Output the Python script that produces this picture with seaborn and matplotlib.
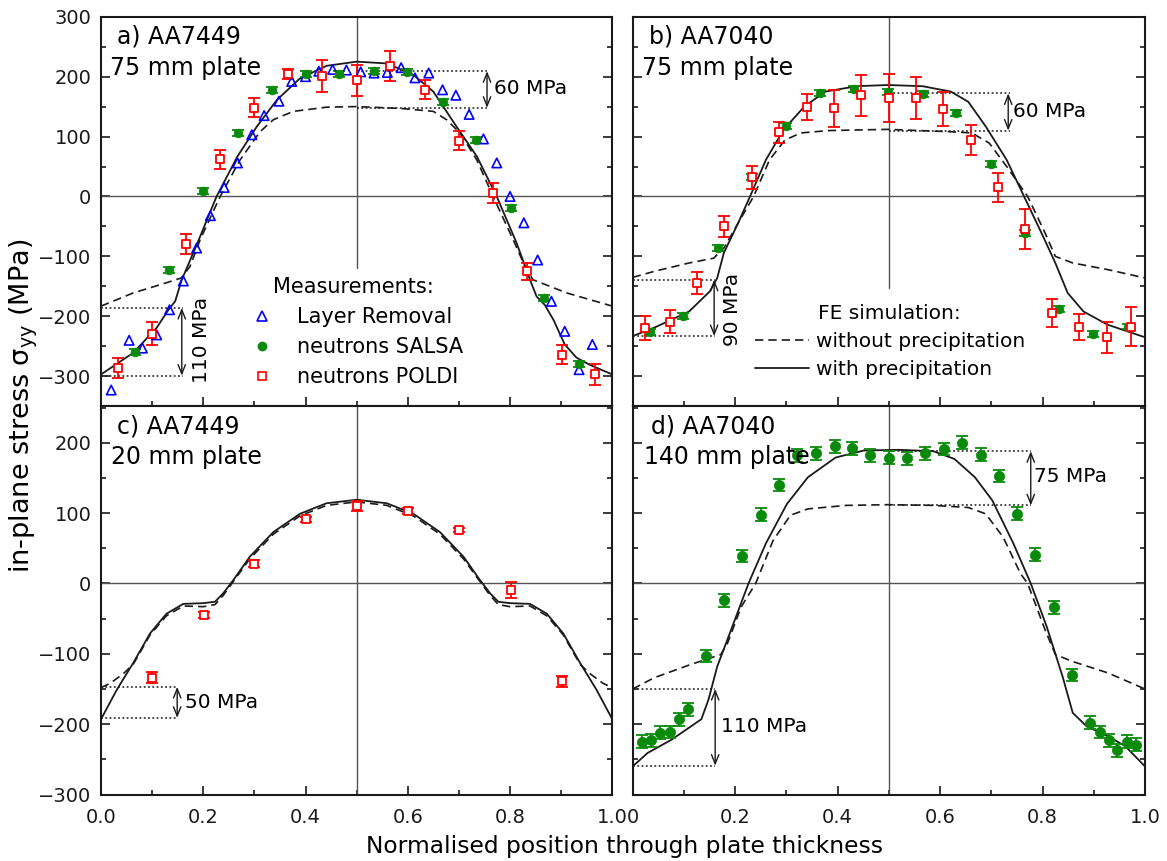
import matplotlib
matplotlib.use("Agg")
import matplotlib.pyplot as plt
import seaborn as sns
from matplotlib.ticker import MultipleLocator
from matplotlib.lines import Line2D

# ---------------- a) AA7449, 75 mm plate ----------------
a_lr_x = [0.020, 0.055, 0.081, 0.109, 0.134, 0.161, 0.187, 0.214, 0.241, 0.267, 0.295, 0.319,
          0.348, 0.373, 0.400, 0.426, 0.453, 0.480, 0.508, 0.534, 0.560, 0.587, 0.614, 0.641,
          0.668, 0.694, 0.720, 0.748, 0.774, 0.800, 0.827, 0.854, 0.881, 0.907, 0.935, 0.961]
a_lr_y = [-323, -240, -253, -231, -189, -141, -86, -32, 15, 56, 103, 135,
          159, 192, 200, 209, 212, 211, 208, 206, 207, 215, 198, 206,
          178, 169, 137, 96, 56, 0, -44, -106, -175, -225, -289, -247]

a_salsa_x = [0.066, 0.133, 0.200, 0.267, 0.334, 0.400, 0.466, 0.533, 0.599, 0.668, 0.733, 0.802, 0.867, 0.935]
a_salsa_y = [-259, -123, 9, 106, 177, 204, 204, 209, 207, 158, 94, -19, -169, -279]
a_salsa_err = [5, 5, 5, 5, 5, 5, 5, 5, 5, 5, 5, 5, 5, 5]

a_poldi_x = [0.034, 0.100, 0.166, 0.233, 0.299, 0.366, 0.433, 0.500, 0.566, 0.634, 0.700, 0.767, 0.834, 0.901, 0.967]
a_poldi_y = [-286, -229, -79, 62, 148, 204, 201, 194, 217, 178, 93, 6, -125, -264, -297]
a_poldi_err = [17, 19, 17, 16, 16, 8, 27, 26, 25, 16, 16, 17, 14, 16, 18]

a_with_x = [0.0, 0.063, 0.109, 0.132, 0.145, 0.158, 0.187, 0.226, 0.267, 0.305, 0.344, 0.389, 0.441, 0.5,
            0.559, 0.611, 0.650, 0.695, 0.735, 0.774, 0.813, 0.839, 0.852, 0.868, 0.885, 0.907, 0.930, 0.956, 1.0]
a_with_y = [-297, -261, -219, -189, -175, -139, -81, 0, 67, 117, 161, 197, 218, 225,
            222, 203, 175, 117, 67, 0, -78, -139, -167, -181, -206, -247, -269, -281, -297]
a_without_x = [0.0, 0.063, 0.128, 0.157, 0.174, 0.194, 0.233, 0.272, 0.311, 0.337, 0.376, 0.441, 0.5,
               0.585, 0.650, 0.676, 0.702, 0.735, 0.767, 0.806, 0.832, 0.845, 0.911, 1.0]
a_without_y = [-183, -161, -144, -136, -117, -72, 0, 61, 108, 128, 142, 149, 150,
               147, 142, 128, 106, 61, 0, -72, -122, -139, -161, -183]

# ---------------- b) AA7040, 75 mm plate ----------------
b_salsa_x = [0.034, 0.099, 0.167, 0.233, 0.299, 0.366, 0.432, 0.498, 0.566, 0.632, 0.699, 0.765, 0.833, 0.899, 0.966]
b_salsa_y = [-227, -199, -86, 32, 118, 172, 179, 175, 171, 139, 54, -61, -188, -229, -217]
b_salsa_err = [5, 5, 5, 5, 5, 5, 5, 5, 5, 5, 5, 5, 5, 5, 5]

b_poldi_x = [0.024, 0.073, 0.126, 0.178, 0.233, 0.286, 0.340, 0.393, 0.446, 0.500, 0.553, 0.606,
             0.660, 0.713, 0.765, 0.818, 0.872, 0.926, 0.973]
b_poldi_y = [-219, -209, -144, -50, 32, 107, 149, 147, 169, 164, 164, 146,
             94, 15, -54, -194, -218, -235, -217]
b_poldi_err = [20, 19, 18, 18, 19, 17, 22, 31, 34, 40, 35, 29, 25, 24, 33, 23, 22, 26, 32]

b_with_x = [0.0, 0.042, 0.110, 0.151, 0.165, 0.178, 0.206, 0.229, 0.260, 0.294, 0.335, 0.376, 0.437, 0.498,
            0.566, 0.621, 0.655, 0.689, 0.730, 0.764, 0.798, 0.825, 0.849, 0.880, 0.927, 1.0]
b_with_y = [-233, -219, -192, -158, -136, -94, -44, 0, 61, 111, 150, 175, 184, 186,
            184, 175, 158, 117, 61, 0, -61, -111, -161, -192, -214, -235]
b_without_x = [0.0, 0.042, 0.110, 0.158, 0.178, 0.206, 0.236, 0.267, 0.297, 0.328, 0.383, 0.498,
               0.621, 0.662, 0.696, 0.730, 0.771, 0.805, 0.825, 0.859, 0.927, 1.0]
b_without_y = [-135, -125, -111, -103, -86, -44, 0, 61, 94, 106, 110, 112,
               108, 106, 89, 50, 0, -61, -100, -111, -122, -136]

# ---------------- c) AA7449, 20 mm plate ----------------
c_poldi_x = [0.099, 0.201, 0.300, 0.401, 0.500, 0.601, 0.700, 0.801, 0.901]
c_poldi_y = [-134, -45, 28, 91, 110, 103, 76, -9, -139]
c_poldi_err = [8, 4, 5, 4, 7, 4, 3, 11, 8]

c_with_x = [0.0, 0.031, 0.063, 0.096, 0.128, 0.161, 0.200, 0.223, 0.239, 0.259, 0.291, 0.337, 0.389, 0.441, 0.5,
            0.559, 0.611, 0.663, 0.709, 0.741, 0.761, 0.777, 0.800, 0.839, 0.872, 0.904, 0.937, 0.969, 1.0]
c_with_y = [-193, -151, -113, -71, -43, -29, -28, -26, -14, 5, 38, 73, 99, 114, 119,
            114, 99, 73, 38, 5, -14, -26, -28, -29, -43, -71, -113, -151, -193]
c_without_x = [0.0, 0.018, 0.044, 0.063, 0.096, 0.128, 0.161, 0.200, 0.223, 0.239, 0.259, 0.291, 0.337, 0.389,
               0.441, 0.5, 0.559, 0.611, 0.663, 0.709, 0.741, 0.761, 0.777, 0.800, 0.839, 0.872, 0.904, 0.937,
               0.956, 0.982, 1.0]
c_without_y = [-148, -142, -128, -115, -73, -46, -32, -33, -30, -17, 3, 35, 70, 96,
               111, 116, 111, 96, 70, 35, 3, -17, -30, -33, -32, -46, -73, -115, -128, -142, -148]

# ---------------- d) AA7040, 140 mm plate ----------------
d_salsa_x = [0.018, 0.035, 0.054, 0.073, 0.091, 0.108, 0.144, 0.178, 0.214, 0.250, 0.286, 0.321,
             0.357, 0.394, 0.429, 0.464, 0.500, 0.536, 0.571, 0.607, 0.643, 0.679, 0.715, 0.750,
             0.786, 0.822, 0.858, 0.893, 0.912, 0.929, 0.946, 0.965, 0.982]
d_salsa_y = [-225, -223, -212, -211, -193, -179, -103, -24, 39, 98, 140, 182,
             185, 195, 192, 182, 179, 178, 185, 191, 200, 183, 153, 99,
             41, -34, -130, -198, -211, -223, -237, -225, -229]
d_salsa_err = [9, 9, 9, 9, 9, 9, 9, 9, 9, 9, 9, 9,
               9, 9, 9, 9, 9, 9, 9, 9, 9, 9, 9, 9,
               9, 9, 9, 9, 9, 9, 9, 9, 9]

d_with_x = [0.0, 0.029, 0.076, 0.110, 0.134, 0.148, 0.165, 0.192, 0.226, 0.260, 0.301, 0.342, 0.396, 0.451,
            0.519, 0.587, 0.628, 0.668, 0.702, 0.743, 0.777, 0.808, 0.839, 0.859, 0.886, 0.927, 0.961, 1.0]
d_with_y = [-260, -241, -222, -205, -193, -165, -118, -66, 0, 57, 113, 151, 179, 189,
            190, 188, 177, 151, 118, 57, 0, -61, -132, -184, -203, -217, -231, -260]
d_without_x = [0.0, 0.042, 0.110, 0.172, 0.185, 0.212, 0.240, 0.274, 0.308, 0.342, 0.417, 0.498,
               0.587, 0.655, 0.689, 0.723, 0.757, 0.771, 0.805, 0.825, 0.859, 0.927, 1.0]
d_without_y = [-150, -134, -116, -101, -85, -33, 0, 61, 97, 106, 111, 112,
               111, 108, 99, 66, 14, 0, -66, -101, -111, -127, -150]

# ---------------- axis text ----------------
x_ticks = [0.0, 0.2, 0.4, 0.6, 0.8, 1.0]
x_labels_left = ["0.0", "0.2", "0.4", "0.6", "0.8", "1.0"]
x_labels_right = ["0", "0.2", "0.4", "0.6", "0.8", "1.0"]
panel_titles = ["a) AA7449", "b) AA7040", "c) AA7449", "d) AA7040"]
panel_plates = ["75 mm plate", "75 mm plate", "20 mm plate", "140 mm plate"]
meas_names = ["Layer Removal", "neutrons SALSA", "neutrons POLDI"]
fe_names = ["without precipitation", "with precipitation"]

sns.set_theme(style="ticks")
plt.rcParams["font.family"] = ["DejaVu Sans"]
plt.rcParams["mathtext.fontset"] = "dejavusans"
for key in ("text.color", "axes.labelcolor", "xtick.color", "ytick.color", "axes.edgecolor"):
    plt.rcParams[key] = "black"

BLUE, GREEN, RED = "#0000ff", "#0a8a0a", "#ff0000"
DASH = (0, (5, 3))
DOT = (0, (1.2, 1.6))

W, H = 1167, 861
fig = plt.figure(figsize=(W / 100, H / 100), dpi=100)


def box(l, t, r, b):
    return [l / W, 1 - b / H, (r - l) / W, (b - t) / H]


ax_a = fig.add_axes(box(101, 16.7, 612.3, 406.2))
ax_b = fig.add_axes(box(632.7, 16.7, 1145, 406.2))
ax_c = fig.add_axes(box(101, 406.2, 612.3, 794.5))
ax_d = fig.add_axes(box(632.7, 406.2, 1145, 794.5))


def style(ax, ylim, show_y, xlabels, vline_top_frac_end):
    ax.set_xlim(0, 1)
    ax.set_ylim(*ylim)
    ax.set_xticks(x_ticks)
    if xlabels is None:
        ax.tick_params(axis="x", labelbottom=False)
    else:
        ax.set_xticklabels(xlabels)
    ax.xaxis.set_minor_locator(MultipleLocator(0.1))
    ax.yaxis.set_major_locator(MultipleLocator(100))
    ax.yaxis.set_minor_locator(MultipleLocator(50))
    ax.tick_params(which="both", direction="in", left=True, right=True, top=False, bottom=True,
                   width=1.2, colors="k", labelsize=14)
    ax.tick_params(which="major", length=6.5)
    ax.tick_params(which="minor", length=3.6)
    ax.tick_params(axis="y", pad=7)
    ax.tick_params(axis="x", pad=10)
    if not show_y:
        ax.tick_params(axis="y", labelleft=False)
    for s in ax.spines.values():
        s.set_linewidth(1.5)
        s.set_color("k")
        s.set_visible(True)
    ax.axhline(0, color="#555555", lw=1.0, zorder=1)
    ax.axvline(0.5, ymin=vline_top_frac_end, ymax=1, color="#555555", lw=1.0, zorder=1)


style(ax_a, (-350, 300), True, None, (-119 + 350) / 650)
style(ax_b, (-350, 300), False, None, (-153 + 350) / 650)
style(ax_c, (-300, 252), True, x_labels_left, 0)
style(ax_d, (-300, 252), False, x_labels_right, 0)


def fe_curves(ax, xw, yw, xo, yo):
    sns.lineplot(x=xo, y=yo, ax=ax, color="k", lw=1.2, linestyle=DASH, estimator=None, sort=False, zorder=3)
    sns.lineplot(x=xw, y=yw, ax=ax, color="k", lw=1.3, estimator=None, sort=False, zorder=3)


def poldi(ax, x, y, err):
    ax.errorbar(x, y, yerr=err, fmt="none", ecolor=RED, elinewidth=1.3, capsize=4.5, capthick=1.3, zorder=4)
    sns.scatterplot(x=x, y=y, ax=ax, marker="s", s=34, color="white", edgecolor=RED, linewidth=1.3, zorder=5)


def salsa(ax, x, y, err, size):
    ax.errorbar(x, y, yerr=err, fmt="none", ecolor=GREEN, elinewidth=1.3, capsize=4.5, capthick=1.3, zorder=4)
    sns.scatterplot(x=x, y=y, ax=ax, marker="o", s=size, color=GREEN, edgecolor=GREEN, linewidth=0.5, zorder=5)


def layer_removal(ax, x, y):
    sns.scatterplot(x=x, y=y, ax=ax, marker="^", s=46, color="none", edgecolor=BLUE, linewidth=1.2, zorder=5)


def bracket(ax, x0, x1, y_hi, y_lo, arrow_x):
    for yy in (y_hi, y_lo):
        ax.plot([x0, x1], [yy, yy], color="k", lw=1.1, linestyle=DOT, zorder=2)
    ax.annotate("", xy=(arrow_x, y_hi), xytext=(arrow_x, y_lo),
                arrowprops=dict(arrowstyle="<->,head_length=0.55,head_width=0.22", color="k", lw=1.0,
                                shrinkA=0, shrinkB=0), zorder=2)


def panel_label(ax, i, x1, x2):
    ax.text(x1, 0.949, panel_titles[i], transform=ax.transAxes, fontsize=17, va="center", ha="left", zorder=6)
    ax.text(x2, 0.869, panel_plates[i], transform=ax.transAxes, fontsize=17, va="center", ha="left", zorder=6)


ANN = 14.5

# panel a
fe_curves(ax_a, a_with_x, a_with_y, a_without_x, a_without_y)
layer_removal(ax_a, a_lr_x, a_lr_y)
salsa(ax_a, a_salsa_x, a_salsa_y, a_salsa_err, 40)
poldi(ax_a, a_poldi_x, a_poldi_y, a_poldi_err)
bracket(ax_a, 0.5, 0.755, 209, 148, 0.755)
ax_a.text(0.768, 180, "60 MPa", fontsize=ANN, va="center", ha="left")
bracket(ax_a, 0.0, 0.161, -186, -299, 0.158)
ax_a.text(0.197, -240, "110 MPa", fontsize=ANN, va="center", ha="center", rotation=90)
panel_label(ax_a, 0, 0.031, 0.017)
meas_handles = [
    Line2D([], [], ls="none", marker="^", ms=7.5, mfc="none", mec=BLUE, mew=1.2),
    Line2D([], [], ls="none", marker="o", ms=6, mfc=GREEN, mec=GREEN),
    Line2D([], [], ls="none", marker="s", ms=6, mfc="white", mec=RED, mew=1.2),
]
ax_a.legend(meas_handles, meas_names, title="Measurements:", loc="center",
            bbox_to_anchor=(0.493, 0.19), frameon=False, fontsize=15, title_fontsize=15,
            labelspacing=0.48, handlelength=1.8, handletextpad=0.75, borderpad=0.2)

# panel b
fe_curves(ax_b, b_with_x, b_with_y, b_without_x, b_without_y)
salsa(ax_b, b_salsa_x, b_salsa_y, b_salsa_err, 40)
poldi(ax_b, b_poldi_x, b_poldi_y, b_poldi_err)
bracket(ax_b, 0.5, 0.737, 172, 110, 0.733)
ax_b.text(0.742, 142, "60 MPa", fontsize=ANN, va="center", ha="left")
bracket(ax_b, 0.0, 0.161, -139, -233, 0.159)
ax_b.text(0.195, -189, "90 MPa", fontsize=ANN, va="center", ha="center", rotation=90)
panel_label(ax_b, 1, 0.032, 0.019)
fe_handles = [
    Line2D([], [], color="k", lw=1.2, linestyle=DASH),
    Line2D([], [], color="k", lw=1.3),
]
ax_b.legend(fe_handles, fe_names, title="FE simulation:", loc="center",
            bbox_to_anchor=(0.502, 0.166), frameon=False, fontsize=ANN, title_fontsize=ANN,
            labelspacing=0.45, handlelength=2.7, handletextpad=0.35, borderpad=0.2)

# panel c
fe_curves(ax_c, c_with_x, c_with_y, c_without_x, c_without_y)
poldi(ax_c, c_poldi_x, c_poldi_y, c_poldi_err)
bracket(ax_c, 0.0, 0.151, -147, -191, 0.149)
ax_c.text(0.165, -169, "50 MPa", fontsize=ANN, va="center", ha="left")
panel_label(ax_c, 2, 0.031, 0.019)

# panel d
fe_curves(ax_d, d_with_x, d_with_y, d_without_x, d_without_y)
salsa(ax_d, d_salsa_x, d_salsa_y, d_salsa_err, 55)
bracket(ax_d, 0.5, 0.777, 188, 111, 0.777)
ax_d.text(0.783, 152, "75 MPa", fontsize=ANN, va="center", ha="left")
bracket(ax_d, 0.0, 0.161, -150, -259, 0.161)
ax_d.text(0.172, -204, "110 MPa", fontsize=ANN, va="center", ha="left")
panel_label(ax_d, 3, 0.035, 0.023)

for ax in (ax_a, ax_b, ax_c, ax_d):
    ax.set_xlabel("")
    ax.set_ylabel("")

fig.text(24 / W, 1 - 405.6 / H, "in-plane stress σ$_{\\mathregular{yy}}$ (MPa)", rotation=90,
         fontsize=19.5, va="center", ha="center")
fig.text(625 / W, 1 - 847 / H, "Normalised position through plate thickness", fontsize=16.8,
         va="center", ha="center")

fig.savefig("out.png", dpi=100)
